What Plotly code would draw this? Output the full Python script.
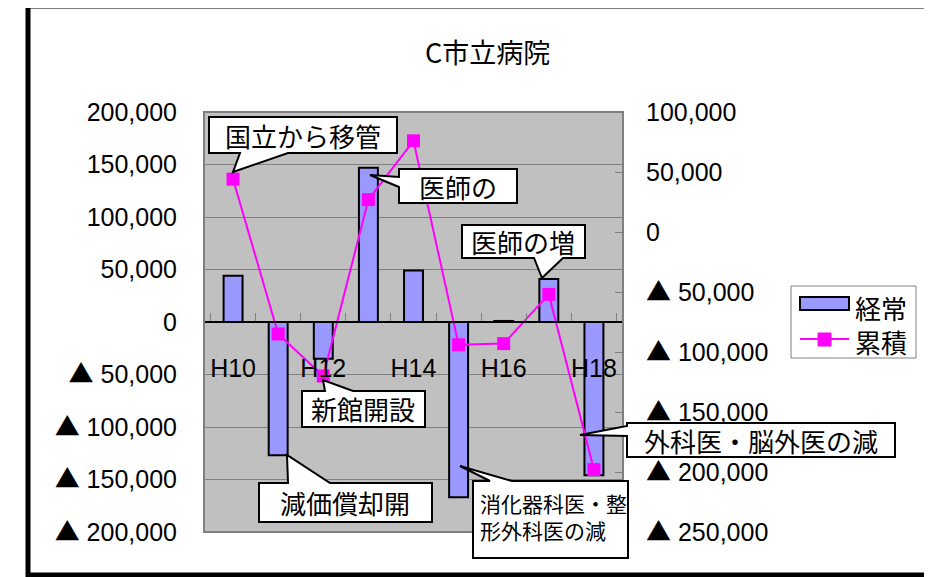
import plotly.graph_objects as go

# ── data ────────────────────────────────────────────────────────────────
years = ["H10", "H11", "H12", "H13", "H14", "H15", "H16", "H17", "H18"]
year_labels = ["H10", "", "H12", "", "H14", "", "H16", "", "H18"]
keijo = [44000, -127000, -35000, 147000, 49000, -167000, 1000, 41000, -146000]       # 経常
ruiseki = [44000, -85000, -120000, 27000, 76000, -94000, -93000, -52000, -198000]  # 累積

left_vals = [200000, 150000, 100000, 50000, 0, -50000, -100000, -150000, -200000]
right_vals = [100000, 50000, 0, -50000, -100000, -150000, -200000, -250000]

JP = "Noto Sans CJK JP, sans-serif"
NUM = "Liberation Sans, Noto Sans CJK JP, sans-serif"


def tri_fmt(v):
    if v >= 0:
        return f"{v:,}"
    return f"<span style='font-family:Noto Sans CJK JP'>▲</span> {-v:,}"


# ── geometry helpers: page pixels -> paper (page has an 8px body margin) ──
OFF = 8
W, H = 932 - OFF, 577 - OFF
ML, MR, MT, MB = 204 - OFF, 932 - 623, 112 - OFF, 577 - 532
PW, PH = W - ML - MR, H - MT - MB


def px(x):
    return (x - OFF - ML) / PW


def py(y):
    return (H + OFF - MB - y) / PH


def callout(box, side, a, b, tip):
    x0, y0, x1, y1 = box
    pts = [(x0, y0)]
    if side == "top":
        pts += [(a, y0), tip, (b, y0)]
    pts += [(x1, y0)]
    if side == "right":
        pts += [(x1, a), tip, (x1, b)]
    pts += [(x1, y1)]
    if side == "bottom":
        pts += [(b, y1), tip, (a, y1)]
    pts += [(x0, y1)]
    if side == "left":
        pts += [(x0, b), tip, (x0, a)]
    path = "M " + " L ".join(f"{px(x):.5f},{py(y):.5f}" for x, y in pts) + " Z"
    return dict(type="path", xref="paper", yref="paper", path=path,
                fillcolor="white", line=dict(color="black", width=2), layer="above")


def rect(x0, y0, x1, y1, **kw):
    return dict(type="rect", xref="paper", yref="paper", x0=px(x0), x1=px(x1),
                y0=py(y0), y1=py(y1), layer="above", **kw)


def text(t, x, y, size, anchor="center", family=JP):
    return dict(text=t, x=px(x), y=py(y), xref="paper", yref="paper", showarrow=False,
                xanchor=anchor, yanchor="middle", font=dict(family=family, size=size, color="black"))


fig = go.Figure()
fig.add_trace(go.Bar(x=years, y=keijo, name="経常",
                     marker=dict(color="#9999FF", line=dict(color="black", width=2))))
fig.add_trace(go.Scatter(x=years, y=ruiseki, name="累積", yaxis="y2", mode="lines+markers",
                         line=dict(color="#FF00FF", width=2),
                         marker=dict(symbol="square", size=13, color="#FF00FF")))

shapes = [
    dict(type="rect", xref="paper", yref="paper", x0=0, x1=1, y0=0, y1=1,
         line=dict(color="#808080", width=2), layer="above"),
    rect(28, 6, 929, 575, line=dict(color="black", width=5)),
    callout((209, 117, 397, 153), "bottom", 240, 288, (233, 172)),
    callout((399, 169, 517, 203), "left", 177, 187, (370, 175)),
    callout((462, 225, 585, 258), "bottom", 534, 563, (542, 278)),
    callout((302, 391, 425, 427), "top", 325, 353, (323, 380)),
    callout((259, 483, 432, 522), "top", 288, 330, (287, 455)),
    callout((473, 481, 628, 558), "top", 490, 512, (460, 466)),
    callout((627, 423, 895, 457), "left", 426, 436, (580, 435)),
    # legend
    rect(791, 286, 916, 358, line=dict(color="#808080", width=1), fillcolor="white"),
    rect(800, 297, 849, 310, line=dict(color="black", width=2), fillcolor="#9999FF"),
    dict(type="line", xref="paper", yref="paper", x0=px(800), x1=px(849), y0=py(339), y1=py(339),
         line=dict(color="#FF00FF", width=2), layer="above"),
    rect(818, 333, 831, 346, line=dict(color="#FF00FF", width=1), fillcolor="#FF00FF"),
]

annotations = [
    text("国立から移管", 303, 135, 26),
    text("医師の", 458, 186, 26),
    text("医師の増", 523, 241, 26),
    text("新館開設", 363, 409, 26),
    text("減価償却開", 345, 502, 26),
    text("外科医・脳外医の減", 761, 440, 26),
    text("消化器科医・整", 478, 503, 21, anchor="left"),
    text("形外科医の減", 478, 530, 21, anchor="left"),
    text("C市立病院", 487, 51, 27),
    text("経常", 853, 307, 26, anchor="left"),
    text("累積", 853, 341, 26, anchor="left"),
]

fig.update_layout(
    width=W, height=H, autosize=False,
    margin=dict(l=ML, r=MR, t=MT, b=MB),
    paper_bgcolor="white", plot_bgcolor="#C0C0C0",
    font=dict(family=NUM, size=25, color="black"),
    bargap=0.58, showlegend=False,
    xaxis=dict(type="category", anchor="free", position=0.5, showline=True,
               linecolor="black", linewidth=2, tickson="boundaries", ticks="inside",
               ticklen=8, tickcolor="#808080", tickvals=years, ticktext=year_labels,
               tickangle=0, ticklabelstandoff=24, showgrid=False),
    yaxis=dict(range=[-200000, 200000], tickvals=left_vals,
               ticktext=[tri_fmt(v) for v in left_vals], showgrid=True,
               gridcolor="#808080", gridwidth=1, zeroline=True, zerolinecolor="black",
               zerolinewidth=2, ticklabelstandoff=26, showline=False),
    yaxis2=dict(range=[-250000, 100000], tickvals=right_vals,
                ticktext=[tri_fmt(v) for v in right_vals], overlaying="y", side="right",
                showgrid=False, zeroline=False, ticks="inside", ticklen=8,
                tickcolor="#808080", ticklabelstandoff=22),
    shapes=shapes, annotations=annotations,
)

fig.write_html("out.html")
